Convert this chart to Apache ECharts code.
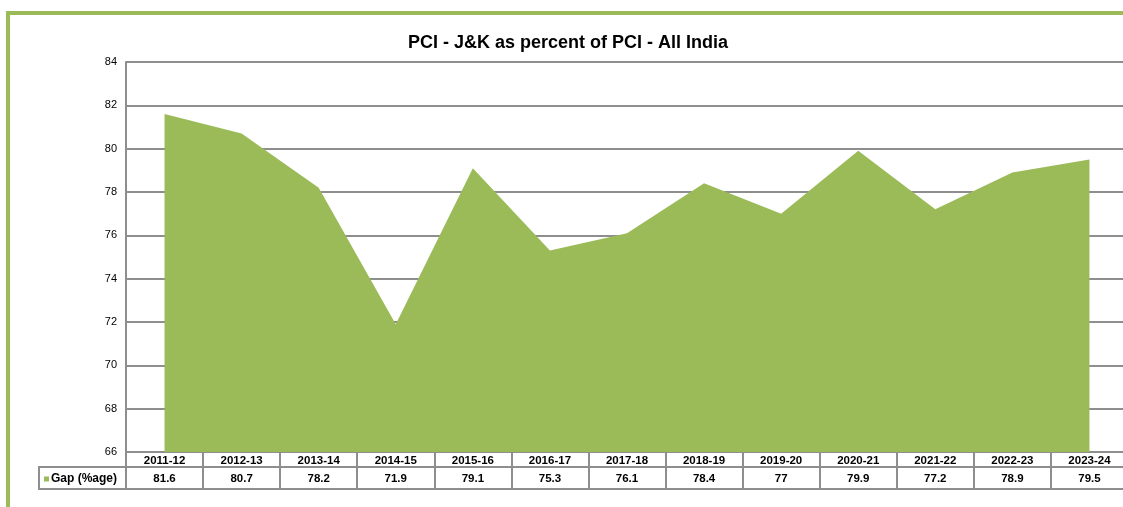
<!DOCTYPE html>
<html>
<head>
<meta charset="utf-8">
<title>PCI - J&K as percent of PCI - All India</title>
<script src="https://cdn.jsdelivr.net/npm/echarts@6/dist/echarts.min.js"></script>
<style>
html, body { margin: 0; padding: 0; background: #fff; }
#chart { width: 1123px; height: 507px; }
</style>
</head>
<body>
<div id="chart"></div>
<script>
// years and the gap series (PCI J&K as % of all India)
var years = ['2011-12', '2012-13', '2013-14', '2014-15', '2015-16', '2016-17', '2017-18',
             '2018-19', '2019-20', '2020-21', '2021-22', '2022-23', '2023-24'];
var gapVals = [81.6, 80.7, 78.2, 71.9, 79.1, 75.3, 76.1, 78.4, 77, 79.9, 77.2, 78.9, 79.5];
var seriesName = 'Gap (%age)';
var yMin = 66, yMax = 84, yStep = 2;

var green = '#9bbb59';
var grey = '#8e8e8e';

var chart = echarts.init(document.getElementById('chart'));
chart.setOption({
    animation: false,
    title: {
        text: 'PCI - J&K as percent of PCI - All India',
        left: 563, top: 29, textAlign: 'center',
        textStyle: { fontFamily: 'Liberation Sans', fontSize: 18, fontWeight: 'bold', color: '#000' }
    },
    legend: {
        data: [seriesName],
        left: 39, top: 468,
        itemWidth: 5, itemHeight: 5, itemGap: 1,
        icon: 'rect',
        textStyle: { fontFamily: 'Liberation Sans', fontSize: 12, fontWeight: 'bold', color: '#000', padding: [0, 0, 0, -3] }
    },
    grid: { left: 126, top: 62, width: 1002, height: 390, outerBoundsMode: 'none' },
    xAxis: {
        type: 'category',
        data: years,
        boundaryGap: true,
        axisLine: { show: true, lineStyle: { color: grey, width: 2 } },
        axisTick: { show: true, interval: 0, length: 37, lineStyle: { color: grey, width: 2 } },
        axisLabel: {
            interval: 0, margin: 1,
            formatter: function (v, i) { return '{c|' + v + '}\n{v|' + gapVals[i] + '}'; },
            rich: {
                c: { fontFamily: 'Liberation Sans', fontSize: 11.5, fontWeight: 'bold', color: '#000', lineHeight: 15 },
                v: { fontFamily: 'Liberation Sans', fontSize: 11.5, fontWeight: 'bold', color: '#000', lineHeight: 22 }
            }
        }
    },
    yAxis: {
        type: 'value',
        min: yMin, max: yMax, interval: yStep,
        axisLine: { show: true, lineStyle: { color: grey, width: 2 } },
        axisTick: { show: false },
        axisLabel: { fontFamily: 'Liberation Sans', fontSize: 11, color: '#000', margin: 9 },
        splitLine: { show: true, lineStyle: { color: grey, width: 2 } }
    },
    series: [{
        name: seriesName,
        type: 'line',
        data: gapVals,
        symbol: 'none',
        itemStyle: { color: green },
        lineStyle: { width: 0 },
        areaStyle: { color: green, opacity: 1, origin: 'start' }
    }],
    graphic: [
        // green frame (top + left)
        { type: 'rect', shape: { x: 8, y: 13, width: 1200, height: 600 },
          style: { fill: 'none', stroke: green, lineWidth: 4 }, silent: true, z: 100 },
        // data table rules
        { type: 'line', shape: { x1: 39, y1: 467, x2: 1123, y2: 467 }, style: { stroke: grey, lineWidth: 2 } },
        { type: 'line', shape: { x1: 39, y1: 489, x2: 1123, y2: 489 }, style: { stroke: grey, lineWidth: 2 } },
        { type: 'line', shape: { x1: 39, y1: 466, x2: 39, y2: 490 }, style: { stroke: grey, lineWidth: 2 } }
    ]
});
</script>
</body>
</html>
